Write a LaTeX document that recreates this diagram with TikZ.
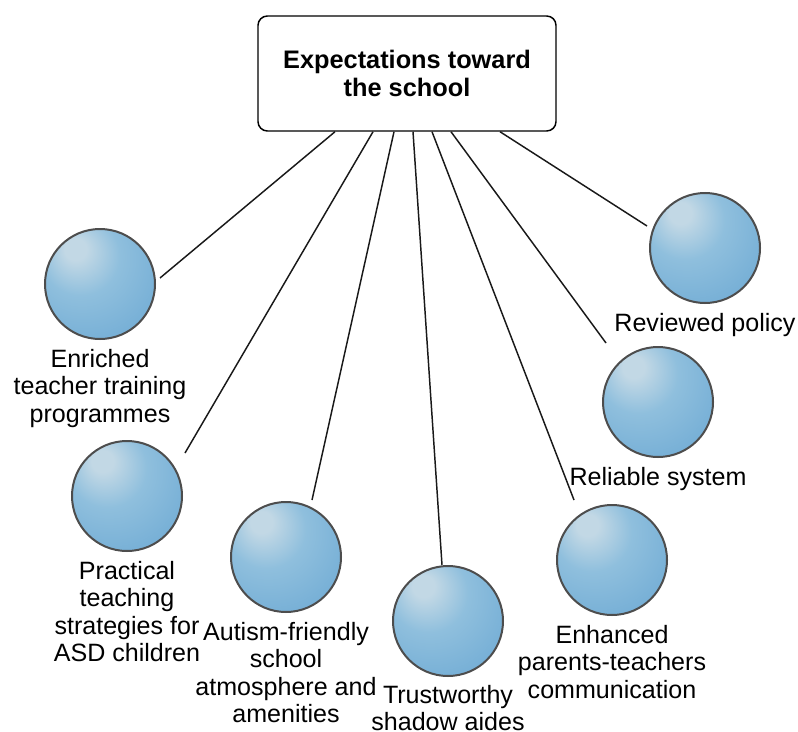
\documentclass[tikz,border=0pt]{standalone}
\usepackage{fontspec}
\setmainfont{Liberation Sans}
\usepackage{tikz}
\usepackage{xcolor}
\usetikzlibrary{positioning,calc}
\definecolor{sphl}{HTML}{C2D8E5}
\definecolor{spmid}{HTML}{8FBFDD}
\definecolor{spedge}{HTML}{68A6D2}
\definecolor{rim}{HTML}{4D4D4D}
\pgfdeclareradialshading{sphereblue}{\pgfpoint{-12bp}{17bp}}{color(0bp)=(sphl); color(5bp)=(sphl); color(18bp)=(spmid); color(46bp)=(spedge); color(72bp)=(spedge)}
\tikzset{
ball/.style={circle,draw=rim,line width=1.5pt,shading=sphereblue,minimum size=82.5pt,inner sep=0pt},
lbl/.style={align=center,inner sep=0pt,font=\fontsize{18.8}{20.4}\selectfont},
link/.style={line width=1.1pt,draw=black!90}
}
\begin{document}
\begin{tikzpicture}[x=0.75pt,y=-0.75pt]
\useasboundingbox (0,0) rectangle (798,731);
\node[draw,line width=1.1pt,rounded corners=7pt,minimum width=223.5pt,minimum height=86.25pt,align=center,font=\bfseries\fontsize{19}{21}\selectfont] (goal) at (407,73.5) {Expectations toward\\the school};
\node[ball] (training) at (100,284) {};
\node[ball] (strategies) at (127,496) {};
\node[ball] (atmosphere) at (286,557) {};
\node[ball] (aides) at (448,621) {};
\node[ball] (communication) at (612,560) {};
\node[ball] (system) at (658,402) {};
\node[ball] (policy) at (705,248) {};
\node[lbl,below=7pt of training] (training-l) {Enriched\\teacher training\\programmes};
\node[lbl,below=7pt of strategies] (strategies-l) {Practical\\teaching\\strategies for\\ASD children};
\node[lbl,below=7pt of atmosphere] (atmosphere-l) {Autism-friendly\\school\\atmosphere and\\amenities};
\node[lbl,below=6pt of aides] (aides-l) {Trustworthy\\shadow aides};
\node[lbl,below=7pt of communication] (communication-l) {Enhanced\\parents-teachers\\communication};
\node[lbl,below=7pt of system] (system-l) {Reliable system};
\node[lbl,below=7pt of policy] (policy-l) {Reviewed policy};
\draw[link] ($(goal.south)+(-72,0)$)--($(training)+(60,-6)$);
\draw[link] ($(goal.south)+(-34,0)$)--($(strategies)+(58,-43)$);
\draw[link] ($(goal.south)+(-13,0)$)--($(atmosphere)+(26,-57)$);
\draw[link] ($(goal.south)+(6,0)$)--($(aides)+(-6,-56)$);
\draw[link] ($(goal.south)+(25,0)$)--($(communication)+(-38,-60)$);
\draw[link] ($(goal.south)+(44,0)$)--($(system)+(-52,-59)$);
\draw[link] ($(goal.south)+(93,0)$)--($(policy)+(-58,-22)$);
\end{tikzpicture}
\end{document}
